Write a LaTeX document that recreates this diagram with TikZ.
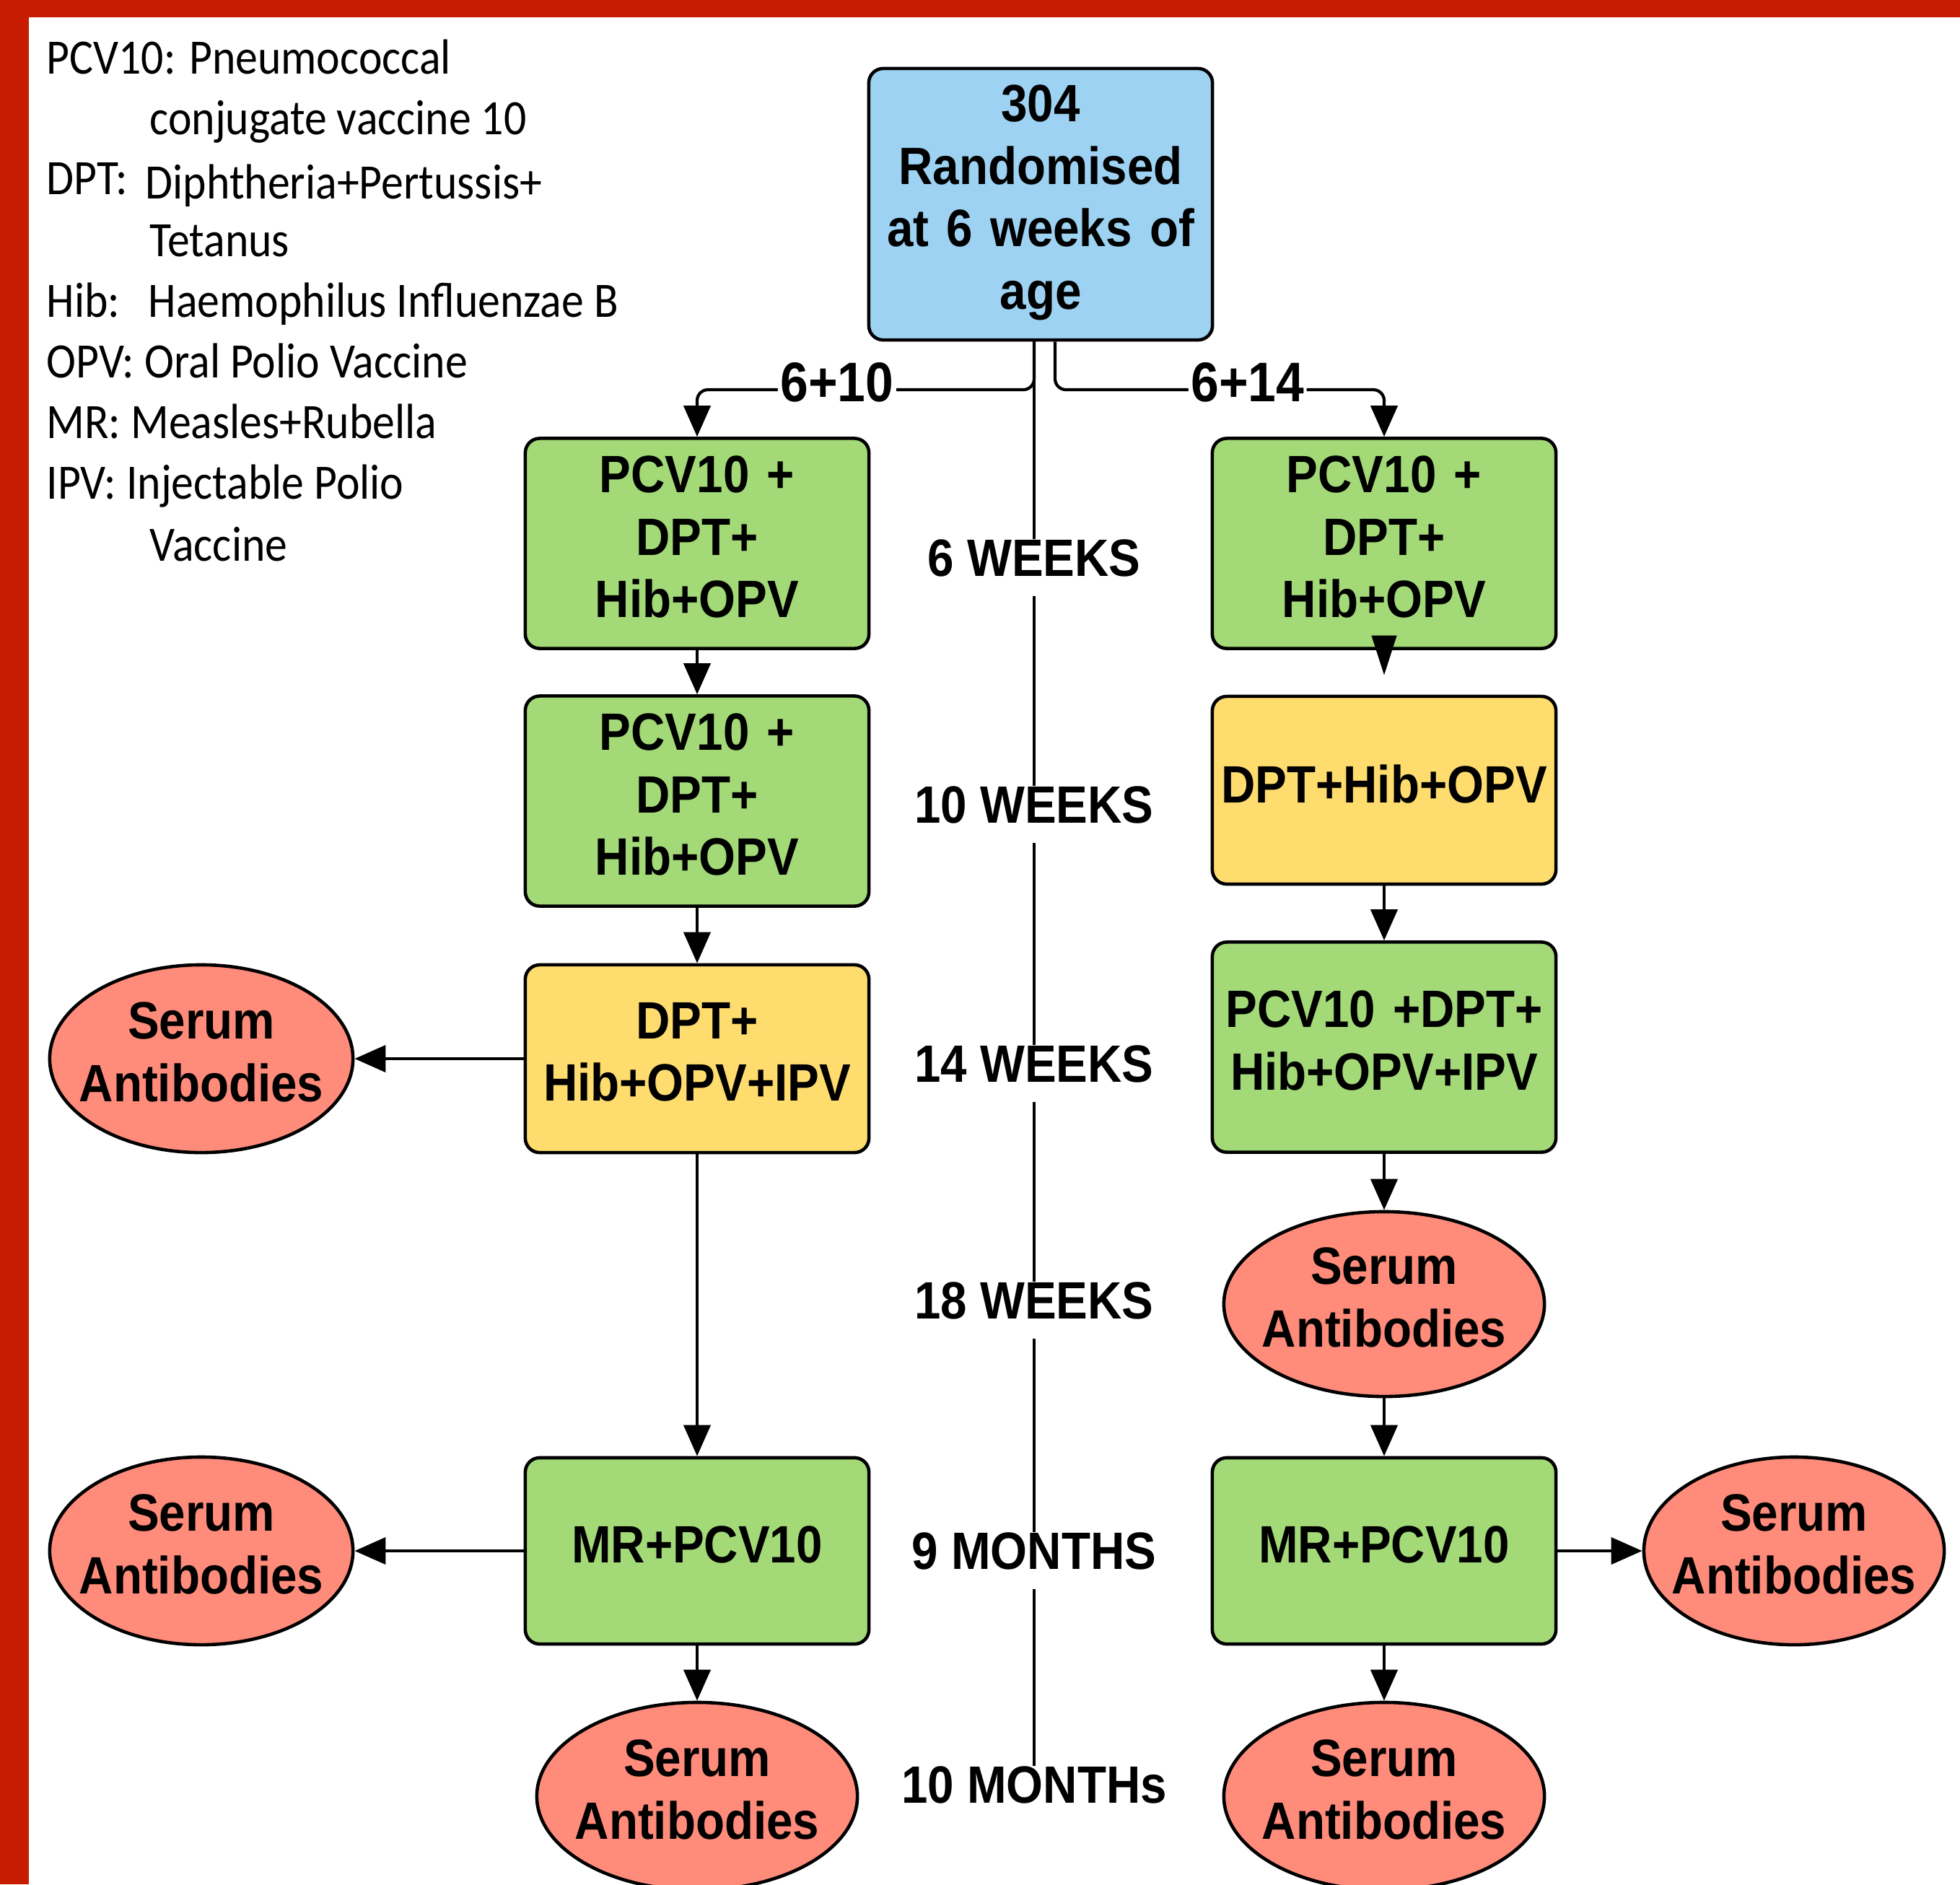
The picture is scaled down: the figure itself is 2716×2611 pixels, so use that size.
\documentclass[tikz,border=0pt]{standalone}
\usepackage{fontspec}
\usetikzlibrary{shapes.geometric,arrows.meta}
\newfontfamily\boxfam[FakeStretch=0.9]{Liberation Sans}
\newfontfamily\legfam[FakeStretch=0.9]{Carlito}
\newcommand\boxfnt{\boxfam\bfseries\fontsize{20.7pt}{24.6pt}\selectfont\spaceskip=\fontdimen2\font\xspaceskip=\fontdimen2\font}
\newcommand\brfnt{\boxfam\bfseries\fontsize{22pt}{26pt}\selectfont}
\newcommand\legfnt{\legfam\fontsize{19.5pt}{24pt}\selectfont}
\newcommand\serumtxt{\makebox[0pt]{Serum}\\\makebox[0pt]{Antibodies}}
\definecolor{vblue}{HTML}{9DD2F2}
\definecolor{vgreen}{HTML}{A3D977}
\definecolor{vyellow}{HTML}{FFDC6E}
\definecolor{vsalmon}{HTML}{FF8B7B}
\definecolor{vred}{HTML}{C81C00}
\tikzset{
  box/.style={draw=black, line width=1.3pt, rounded corners=0.2cm, minimum width=4.76cm,
    text width=4.6cm, align=center, font=\boxfnt, inner sep=0pt},
  greenbox/.style={box, fill=vgreen, execute at end node={\par\vspace{0.18cm}}},
  yellowbox/.style={box, fill=vyellow, execute at end node={\par\vspace{0.18cm}}},
  bluebox/.style={box, fill=vblue, execute at end node={\par\vspace{0.04cm}}},
  serum/.style={ellipse, draw=black, line width=1.3pt, fill=vsalmon, minimum width=4.44cm,
    minimum height=2.6cm, inner sep=0pt, align=center, font=\boxfnt,
    text width=2cm, execute at end node={\par\vspace{0.18cm}}},
  arr/.style={-{Triangle[length=0.43cm,width=0.37cm]}, line width=1.2pt},
  longarr/.style={-{Triangle[length=0.55cm,width=0.34cm]}, line width=1.2pt},
  tline/.style={line width=1.2pt},
  tl/.style={font=\boxfnt, fill=white, text height=0.5cm, text depth=0.27cm,
    inner xsep=2pt, inner ysep=0pt, anchor=base},
  brlbl/.style={font=\brfnt, fill=white, inner xsep=1pt, inner ysep=0pt},
  legend/.style={font=\legfnt, anchor=base west, inner sep=0pt},
}
\begin{document}
\begin{tikzpicture}[x=0.01cm, y=-0.01cm]
\useasboundingbox (0,0) rectangle (2716,2611);
% frame
\fill[vred] (0,0) rectangle (2716,24);
\fill[vred] (0,0) rectangle (40,2611);

% legend
\node[legend] (lg1) at (64,102) {PCV10: Pneumococcal};
\node[legend] (lg2) at (207,186) {conjugate vaccine 10};
\node[legend] (lg3) at (64,269) {DPT:};
\node[legend] (lg4) at (201,275) {Diphtheria+Pertussis+};
\node[legend] (lg5) at (207,355) {Tetanus};
\node[legend] (lg6) at (64,439) {Hib:};
\node[legend] (lg7) at (205,439) {Haemophilus Influenzae B};
\node[legend] (lg8) at (64,523) {OPV: Oral Polio Vaccine};
\node[legend] (lg9) at (64,607) {MR: Measles+Rubella};
\node[legend] (lg10) at (64,691) {IPV: Injectable Polio};
\node[legend] (lg11) at (207,777) {Vaccine};

% top
\node[bluebox, minimum height=3.76cm] (top) at (1442,283) {304\\Randomised\\at 6 weeks of\\age};

% left column
\node[greenbox, minimum height=2.91cm] (L1) at (966,753) {PCV10 +\\DPT+\\Hib+OPV};
\node[greenbox, minimum height=2.91cm] (L2) at (966,1110) {PCV10 +\\DPT+\\Hib+OPV};
\node[yellowbox, minimum height=2.6cm] (L3) at (966,1467) {DPT+\\Hib+OPV+IPV};
\node[greenbox, minimum height=2.58cm] (L4) at (966,2149) {MR+PCV10};
\node[serum, minimum width=4.44cm] (L5) at (966,2489) {\serumtxt};
\node[serum, minimum width=4.2cm] (E14L) at (279,1467) {\serumtxt};
\node[serum, minimum width=4.2cm] (E9L) at (279,2149) {\serumtxt};

% right column
\node[greenbox, minimum height=2.91cm] (R1) at (1918,753) {PCV10 +\\DPT+\\Hib+OPV};
\node[yellowbox, minimum height=2.6cm] (R2) at (1918,1095) {DPT+Hib+OPV};
\node[greenbox, minimum height=2.91cm] (R3) at (1918,1451) {PCV10 +DPT+\\Hib+OPV+IPV};
\node[serum, minimum width=4.44cm, minimum height=2.56cm] (R4) at (1918,1807) {\serumtxt};
\node[greenbox, minimum height=2.58cm] (R5) at (1918,2149) {MR+PCV10};
\node[serum, minimum width=4.44cm] (R6) at (1918,2489) {\serumtxt};
\node[serum, minimum width=4.16cm] (E9R) at (2486,2149) {\serumtxt};

% timeline labels
\node[tl] (t6) at (1433,798) {6 WEEKS};
\node[tl] (t10) at (1433,1140) {10 WEEKS};
\node[tl] (t14) at (1433,1499) {14 WEEKS};
\node[tl] (t18) at (1433,1827) {18 WEEKS};
\node[tl] (t9m) at (1433,2174) {9 MONTHS};
\node[tl] (t10m) at (1433,2498) {10 MONTHs};

% timeline
\draw[tline] (top.south -| t6) -- (t6.north);
\draw[tline] (t6.south) -- (t10.north);
\draw[tline] (t10.south) -- (t14.north);
\draw[tline] (t14.south) -- (t18.north);
\draw[tline] (t18.south) -- (t9m.north);
\draw[tline] (t9m.south) -- (t10m.north);

% branches
\coordinate (bl) at (1433,540);
\coordinate (br) at (1462,540);
\draw[arr, rounded corners=0.15cm] (top.south -| bl) -- (bl)
  -- node[brlbl, pos=0.585, yshift=0.1cm] (lb610) {6+10} (bl -| L1) -- (L1.north);
\draw[arr, rounded corners=0.15cm] (top.south -| br) -- (br)
  -- node[brlbl, pos=0.585, yshift=0.1cm] (lb614) {6+14} (br -| R1) -- (R1.north);

% left arrows
\draw[arr] (L1) -- (L2);
\draw[arr] (L2) -- (L3);
\draw[arr] (L3) -- (L4);
\draw[arr] (L3) -- (E14L);
\draw[arr] (L4) -- (E9L);
\draw[arr] (L4) -- (L5);

% right arrows
\draw[longarr, shorten >=0.27cm] ([yshift=0.2cm]R1.south) -- (R2.north);
\draw[arr] (R2) -- (R3);
\draw[arr] (R3) -- (R4);
\draw[arr] (R4) -- (R5);
\draw[arr] (R5) -- (R6);
\draw[arr] (R5) -- (E9R);
\end{tikzpicture}
\end{document}
